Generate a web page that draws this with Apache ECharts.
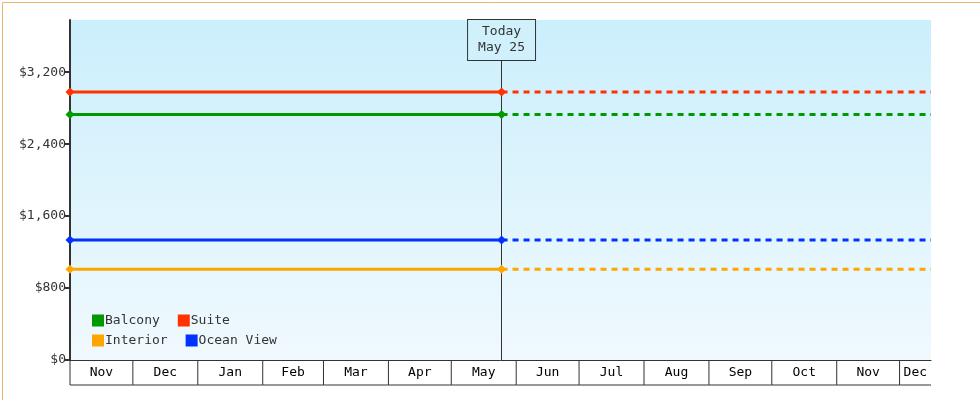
<!DOCTYPE html>
<html><head><meta charset="utf-8">
<script src="https://cdn.jsdelivr.net/npm/echarts@6/dist/echarts.min.js"></script>
<style>html,body{margin:0;padding:0}#c{width:980px;height:400px}</style>
</head><body><div id="c"></div>
<script>
var startDate = '2023-11-01';
var endDate = '2024-12-16';
var today = '2024-05-25';
var months = ['2023-11-01','2023-12-01','2024-01-01','2024-02-01','2024-03-01','2024-04-01','2024-05-01','2024-06-01','2024-07-01','2024-08-01','2024-09-01','2024-10-01','2024-11-01','2024-12-01'];
var monthNames = ['Nov','Dec','Jan','Feb','Mar','Apr','May','Jun','Jul','Aug','Sep','Oct','Nov','Dec'];
var names = ['Balcony','Suite','Interior','Ocean View'];
var prices = [2730, 2980, 1010, 1335];
var colors = ['#009900','#ff3300','#ffa500','#0033ff'];
var yTicks = [0, 800, 1600, 2400, 3200];

var font = 'DejaVu Sans Mono';
var chart = echarts.init(document.getElementById('c'));
var series = [];
names.forEach(function (n, i) {
  series.push({
    name: n, type: 'line', color: colors[i], symbol: 'diamond', symbolSize: 9,
    lineStyle: {width: 3}, z: 5,
    data: [[startDate, prices[i]], [today, prices[i]]]
  });
  series.push({
    name: n, type: 'line', color: colors[i], symbol: 'none',
    lineStyle: {width: 3, type: [6, 5]}, z: 4,
    data: [[today, prices[i]], [endDate, prices[i]]]
  });
});
series.push({
  type: 'line', data: [], markLine: {
    silent: true, symbol: 'none',
    lineStyle: {color: '#333', width: 1, type: 'solid'},
    label: {
      position: 'end', distance: 0, formatter: 'Today\nMay 25', color: '#333',
      fontFamily: font, fontSize: 13, lineHeight: 16, padding: [4, 10],
      borderColor: '#333', borderWidth: 1, backgroundColor: '#d0f1fc'
    },
    data: [[{coord: [today, 0]}, {coord: [today, 3335]}]]
  }
});
series.push({
  type: 'custom', silent: true, clip: false,
  data: months.map(function (m, i) { return [m, i]; }),
  renderItem: function (params, api) {
    var i = api.value(1);
    var x0 = api.coord([months[i], 0]);
    var x1 = api.coord([i + 1 < months.length ? months[i + 1] : endDate, 0]);
    return {type: 'group', children: [
      {type: 'line', shape: {x1: x0[0], y1: x0[1], x2: x0[0], y2: x0[1] + 25}, style: {stroke: '#333', lineWidth: 1}},
      {type: 'line', shape: {x1: x0[0], y1: x0[1] + 25, x2: x1[0], y2: x0[1] + 25}, style: {stroke: '#333', lineWidth: 1}},
      {type: 'text', x: (x0[0] + x1[0]) / 2, y: x0[1] + 13, style: {text: monthNames[i], fill: '#000', font: '13px ' + font, align: 'center', verticalAlign: 'middle'}}
    ]};
  }
});
var legendBase = {
  left: 87, orient: 'horizontal', itemWidth: 12, itemHeight: 12, itemGap: 18, icon: 'rect',
  textStyle: {fontFamily: font, fontSize: 13, color: '#333', padding: [0, 0, 0, -4], width: 70}
};
chart.setOption({
  animation: false,
  textStyle: {fontFamily: font},
  graphic: [{type: 'rect', left: 0, top: 0, z: 100, silent: true,
    shape: {x: 0.5, y: 0.5, width: 979, height: 399},
    style: {fill: 'none', stroke: '#f0b070', lineWidth: 1}}],
  grid: {left: 70, right: 49, top: 20, bottom: 40, show: true, borderWidth: 0,
    backgroundColor: new echarts.graphic.LinearGradient(0, 0, 0, 1, [{offset: 0, color: '#cbeffc'}, {offset: 1, color: '#f0f9fe'}])},
  legend: [
    Object.assign({}, legendBase, {top: 309, data: names.slice(0, 2)}),
    Object.assign({}, legendBase, {top: 329, data: names.slice(2, 4)})
  ],
  xAxis: {type: 'time', min: startDate, max: endDate,
    axisLine: {lineStyle: {color: '#333', width: 1}}, axisTick: {show: false},
    axisLabel: {show: false}, splitLine: {show: false}},
  yAxis: {type: 'value', min: 0, max: 3780, interval: 800,
    axisLine: {show: true, lineStyle: {color: '#333', width: 2}},
    axisTick: {show: true, length: 5, lineStyle: {color: '#333', width: 2}},
    splitLine: {show: false},
    axisLabel: {color: '#333', fontSize: 13, fontFamily: font, margin: 4,
      showMaxLabel: false,
      formatter: function (v) { return yTicks.indexOf(v) < 0 ? '' : '$' + v.toLocaleString('en-US'); }}},
  series: series
});
</script></body></html>
